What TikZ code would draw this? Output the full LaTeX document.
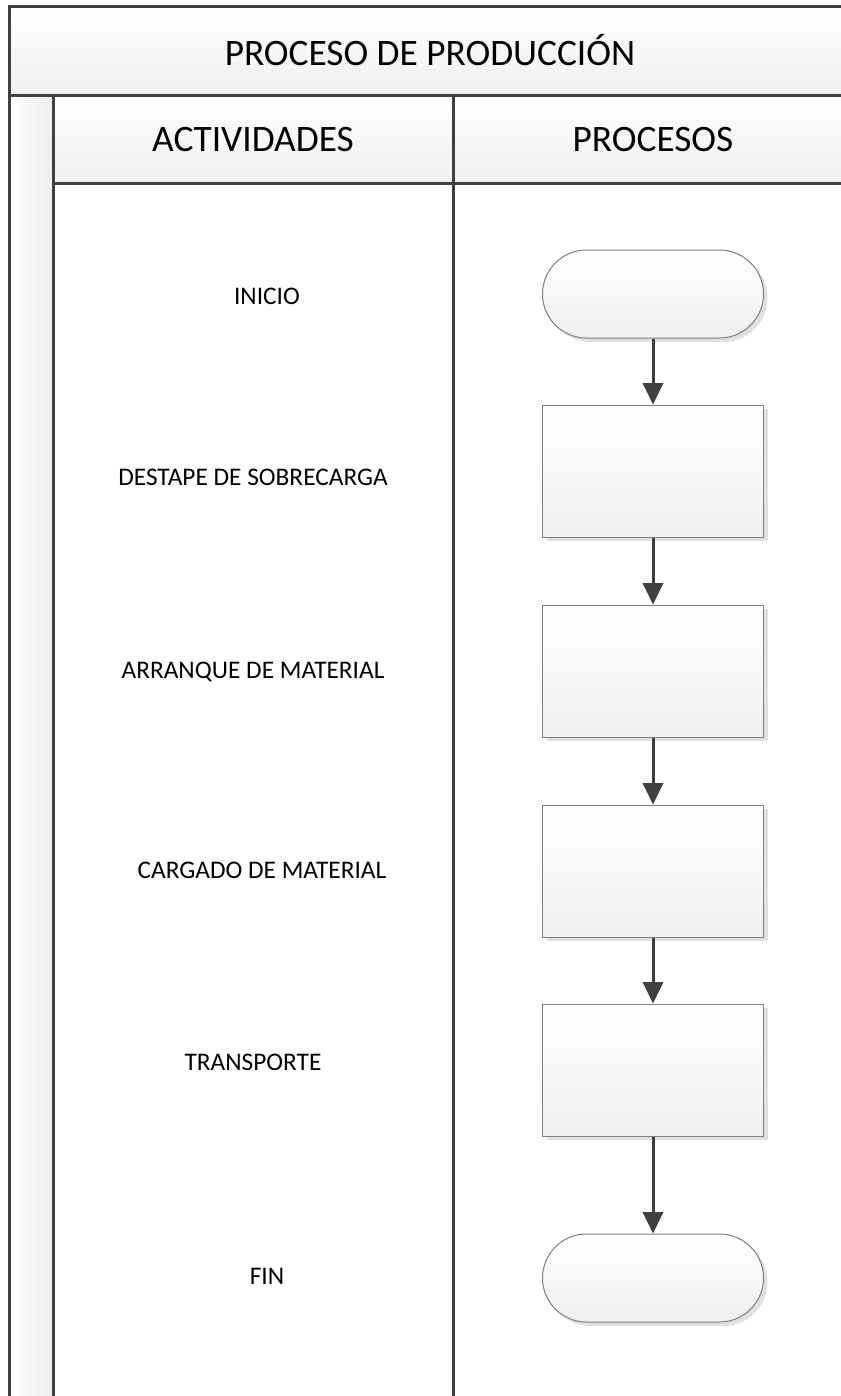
\documentclass[tikz,border=0pt]{standalone}
\usepackage{fontspec}
\setmainfont{Carlito}
\usetikzlibrary{arrows.meta,shadows}
\definecolor{linegray}{HTML}{404040}
\definecolor{boxgray}{HTML}{7F7F7F}

\begin{document}
\begin{tikzpicture}
[x=0.75pt, y=-0.75pt, every node/.style={inner sep=0pt},
 band/.style={line width=2.25pt, draw=linegray, top color=white, bottom color=black!6},
 strip/.style={line width=2.25pt, draw=linegray, left color=white, right color=black!7},
 terminal/.style={rectangle, rounded corners=33pt, minimum width=165.75pt, minimum height=66pt, draw=boxgray, line width=0.75pt, top color=white, bottom color=black!6, drop shadow={shadow xshift=3pt, shadow yshift=-3pt, fill=black!12, opacity=1}},
 paso/.style={rectangle, minimum width=165.75pt, minimum height=99pt, draw=boxgray, line width=0.75pt, top color=white, bottom color=black!6, drop shadow={shadow xshift=3pt, shadow yshift=-3pt, fill=black!12, opacity=1}},
 titulo/.style={font=\fontsize{28}{32}\selectfont},
 etiqueta/.style={font=\fontsize{19}{22}\selectfont},
 flecha/.style={line width=2.25pt, draw=linegray, -{Triangle[length=16pt, width=15pt]}}]
\useasboundingbox (0,0) rectangle (841,1396);
\clip (0,0) rectangle (841,1396);
\fill[white] (0,0) rectangle (841,1396);
% lanes
\draw[band] (9,6) rectangle (860,95);
\draw[strip] (9,95) rectangle (53,1410);
\draw[band] (53,95) rectangle (453,183);
\draw[band] (453,95) rectangle (860,183);
\draw[line width=2.25pt, draw=linegray] (453,183) -- (453,1410);
\node (titulo) [titulo] at (430,50) {PROCESO DE PRODUCCIÓN};
\node (actividades) [titulo] at (253,140) {ACTIVIDADES};
\node (procesos) [titulo] at (653,140) {PROCESOS};
% activities
\node (lbl-inicio) [etiqueta] at (267,296) {INICIO};
\node (lbl-destape) [etiqueta] at (253,477) {DESTAPE DE SOBRECARGA};
\node (lbl-arranque) [etiqueta] at (253,672) {ARRANQUE DE MATERIAL};
\node (lbl-cargado) [etiqueta] at (262,870) {CARGADO DE MATERIAL};
\node (lbl-transporte) [etiqueta] at (253,1062) {TRANSPORTE};
\node (lbl-fin) [etiqueta] at (267,1276) {FIN};
% processes
\node (inicio) [terminal] at (653,294) {};
\node (destape) [paso] at (653,471) {};
\node (arranque) [paso] at (653,671) {};
\node (cargado) [paso] at (653,871) {};
\node (transporte) [paso] at (653,1070) {};
\node (fin) [terminal] at (653,1278) {};
\draw [flecha] (inicio) -- (destape);
\draw [flecha] (destape) -- (arranque);
\draw [flecha] (arranque) -- (cargado);
\draw [flecha] (cargado) -- (transporte);
\draw [flecha] (transporte) -- (fin);
\end{tikzpicture}
\end{document}
